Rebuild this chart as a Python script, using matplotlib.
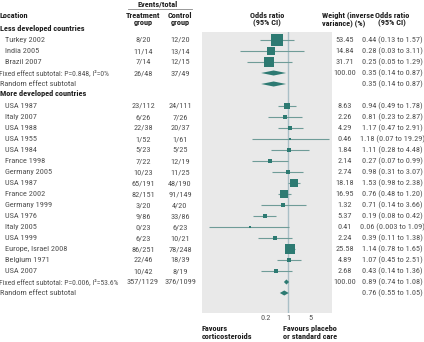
import numpy as np
import matplotlib
matplotlib.use("Agg")
import matplotlib.pyplot as plt
from matplotlib import font_manager
from matplotlib.transforms import blended_transform_factory

# ---------------- data ----------------
less_names = ["Turkey 2002", "India 2005", "Brazil 2007"]
less_trt = ["8/20", "11/14", "7/14"]
less_ctl = ["12/20", "13/14", "12/15"]
less_wt = [53.45, 14.84, 31.71]
less_or = [0.44, 0.28, 0.25]
less_lo = [0.13, 0.03, 0.05]
less_hi = [1.57, 3.11, 1.29]
less_fixed_label = "Fixed effect subtotal: P=0.848, I²=0%"
less_fixed_trt, less_fixed_ctl = "26/48", "37/49"
less_fixed = [0.35, 0.14, 0.87]
less_random = [0.35, 0.14, 0.87]

more_names = ["USA 1987", "Italy 2007", "USA 1988", "USA 1955", "USA 1984",
              "France 1998", "Germany 2005", "USA 1987", "France 2002",
              "Germany 1999", "USA 1976", "Italy 2005", "USA 1999",
              "Europe, Israel 2008", "Belgium 1971", "USA 2007"]
more_trt = ["23/112", "6/26", "22/38", "1/52", "5/23", "7/22", "10/23",
            "65/191", "82/151", "3/20", "9/86", "0/23", "6/23", "86/251",
            "22/46", "10/42"]
more_ctl = ["24/111", "7/26", "20/37", "1/61", "5/25", "12/19", "11/25",
            "48/190", "91/149", "4/20", "33/86", "6/23", "10/21", "78/248",
            "18/39", "8/19"]
more_wt = [8.63, 2.26, 4.29, 0.46, 1.84, 2.14, 2.74, 18.18, 16.95, 1.32,
           5.37, 0.41, 2.24, 25.58, 4.89, 2.68]
more_or = [0.94, 0.81, 1.17, 1.18, 1.11, 0.27, 0.98, 1.53, 0.76, 0.71,
           0.19, 0.06, 0.39, 1.14, 1.07, 0.43]
more_lo = [0.49, 0.23, 0.47, 0.07, 0.28, 0.07, 0.31, 0.98, 0.48, 0.14,
           0.08, 0.003, 0.11, 0.78, 0.45, 0.14]
more_hi = [1.78, 2.87, 2.91, 19.29, 4.48, 0.99, 3.07, 2.38, 1.20, 3.66,
           0.42, 1.09, 1.38, 1.65, 2.51, 1.36]
more_fixed_label = "Fixed effect subtotal: P=0.006, I²=53.6%"
more_fixed_trt, more_fixed_ctl = "357/1129", "376/1099"
more_fixed = [0.89, 0.74, 1.08]
more_random = [0.76, 0.55, 1.05]

xticks = [0.2, 1, 5]
xtick_labels = ["0.2", "1", "5"]

# ---------------- font choice ----------------
available = {f.name for f in font_manager.fontManager.ttflist}
prefs = ["Liberation Sans Narrow", "DejaVu Sans Condensed", "Roboto Condensed",
         "Open Sans Condensed", "Noto Sans Condensed", "Arial Narrow",
         "Roboto", "Lato", "DejaVu Sans"]
FONTNAME = next(f for f in prefs if f in available)
plt.rcParams['font.family'] = [FONTNAME, "DejaVu Sans"]

W, H = 424, 342
TXT = "#505050"
HDR = "#1e1e1e"
SQ = "#2d7a72"
LN = "#6f9c98"
REF = "#a9bfc6"
BG = "#e9e9e9"

fig = plt.figure(figsize=(W / 100, H / 100), dpi=100)
fig.patch.set_facecolor("white")

# size the font so that the widest CI string spans ~64 px like the reference
renderer = fig.canvas.get_renderer()
probe = fig.text(0, 0, "1.18 (0.07 to 19.29)", fontsize=10)
wpx = probe.get_window_extent(renderer).width
probe.remove()
FS = min(10 * 64.0 / wpx, 6.2)

# plot panel in pixel placement
pl, pr, pt, pb = 202, 332, 32, 313
ax = fig.add_axes([pl / W, 1 - pb / H, (pr - pl) / W, (pb - pt) / H])
ax.set_facecolor(BG)
ax.set_xscale("log")
ax.set_xlim(0.00186, 24.9)
y0, dy = 40, 11  # pixel of row 0, row spacing
ax.set_ylim((pb - y0) / dy, (pt - y0) / dy)
for s in ax.spines.values():
    s.set_visible(False)
ax.set_yticks([])
ax.set_xticks(xticks)
ax.set_xticklabels(xtick_labels)
ax.minorticks_off()
ax.tick_params(axis="x", length=0, pad=1.5, labelsize=FS, labelcolor=TXT)
ax.axvline(1, color=REF, lw=1.0, zorder=1)

tr = blended_transform_factory(fig.transFigure, ax.transData)


def py(ypx):
    return (ypx - y0) / dy


def txt(xpx, row, s, ha="left", bold=False, color=None, scale=1.0):
    fig.text(xpx / W, row, s, transform=tr, ha=ha, va="center",
             fontsize=FS * scale, fontweight="bold" if bold else "normal",
             color=color or (HDR if bold else TXT))


def fmt(v):
    return f"{v:.3f}" if v < 0.01 else f"{v:.2f}"


def or_text(o, lo, hi):
    return f"{fmt(o)} ({fmt(lo)} to {fmt(hi)})"


X_NAME, X_SUB, X_TRT, X_CTL, X_WT, X_OR = 5, 0, 143, 180, 345, 392


def study(row, name, trt, ctl, wt, o, lo, hi):
    txt(X_NAME, row, name)
    txt(X_TRT, row, trt, ha="center")
    txt(X_CTL, row, ctl, ha="center")
    txt(X_WT, row, f"{wt:.2f}", ha="center")
    txt(X_OR, row, or_text(o, lo, hi), ha="center")
    ax.plot([lo, hi], [row, row], color=LN, lw=0.8, zorder=2,
            solid_capstyle="butt")
    side = (1.5 + 1.5 * np.sqrt(wt)) * 0.72
    ax.plot([o], [row], marker="s", ms=side, color=SQ, mec=SQ, mew=0,
            zorder=3)


def diamond(row, vals):
    o, lo, hi = vals
    h = 0.23
    ax.fill([lo, o, hi, o], [row, row - h, row, row + h], color=SQ,
            lw=0, zorder=3)


# headers
txt(X_SUB, py(15), "Location", bold=True)
txt(158, py(4), "Events/total", ha="center", bold=True)
fig.add_artist(plt.Line2D([128 / W, 192 / W], [1 - 9 / H, 1 - 9 / H],
                          color="#888888", lw=0.6))
txt(X_TRT, py(15), "Treatment", ha="center", bold=True)
txt(X_TRT, py(23), "group", ha="center", bold=True)
txt(X_CTL, py(15), "Control", ha="center", bold=True)
txt(X_CTL, py(23), "group", ha="center", bold=True)
txt(267, py(15), "Odds ratio", ha="center", bold=True)
txt(267, py(23), "(95% CI)", ha="center", bold=True)
txt(322, py(15), "Weight (inverse", bold=True)
txt(322, py(23), "variance) (%)", bold=True)
txt(X_OR, py(15), "Odds ratio", ha="center", bold=True)
txt(X_OR, py(23), "(95% CI)", ha="center", bold=True)

# less developed
txt(X_SUB, -1, "Less developed countries", bold=True)
for i in range(len(less_names)):
    study(i, less_names[i], less_trt[i], less_ctl[i], less_wt[i],
          less_or[i], less_lo[i], less_hi[i])
r = len(less_names)
txt(-1, r, less_fixed_label, scale=0.92)
txt(X_TRT, r, less_fixed_trt, ha="center")
txt(X_CTL, r, less_fixed_ctl, ha="center")
txt(X_WT, r, "100.00", ha="center")
txt(X_OR, r, or_text(*less_fixed), ha="center")
diamond(r, less_fixed)
r += 1
txt(X_SUB, r, "Random effect subtotal")
txt(X_OR, r, or_text(*less_random), ha="center")
diamond(r, less_random)

# more developed
r0 = r + 2
txt(X_SUB, r0 - 1.1, "More developed countries", bold=True)
for i in range(len(more_names)):
    study(r0 + i, more_names[i], more_trt[i], more_ctl[i], more_wt[i],
          more_or[i], more_lo[i], more_hi[i])
r = r0 + len(more_names)
txt(-1, r, more_fixed_label, scale=0.92)
txt(X_TRT, r, more_fixed_trt, ha="center")
txt(X_CTL, r, more_fixed_ctl, ha="center")
txt(X_WT, r, "100.00", ha="center")
txt(X_OR, r, or_text(*more_fixed), ha="center")
diamond(r, more_fixed)
r += 1
txt(X_SUB, r, "Random effect subtotal")
txt(X_OR, r, or_text(*more_random), ha="center")
diamond(r, more_random)

# favours labels
txt(202, py(328), "Favours", bold=True)
txt(202, py(336), "corticosteroids", bold=True)
txt(283, py(328), "Favours placebo", bold=True)
txt(283, py(336), "or standard care", bold=True)

fig.savefig("out.png", dpi=100, facecolor="white")
